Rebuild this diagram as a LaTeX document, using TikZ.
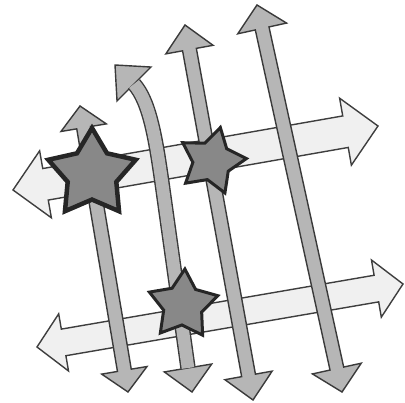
\documentclass[tikz,border=0pt]{standalone}
\usetikzlibrary{calc,shapes.geometric}

\definecolor{barfill}{RGB}{240,240,240}
\definecolor{barline}{RGB}{62,62,62}
\definecolor{rodfill}{RGB}{182,182,182}
\definecolor{rodline}{RGB}{58,58,58}
\definecolor{starfill}{RGB}{136,136,136}
\definecolor{starline}{RGB}{38,38,38}

% flecha doble: estilo, desde, hasta, medio cuerpo, media punta, largo punta
\newcommand{\dblarrow}[6]{%
  \draw[#1] (#2)
    -- ($(#2)!#6!(#3)!#5!90:(#3)$)
    -- ($(#2)!#6!(#3)!#4!90:(#3)$)
    -- ($(#3)!#6!(#2)!#4!-90:(#2)$)
    -- ($(#3)!#6!(#2)!#5!-90:(#2)$)
    -- (#3)
    -- ($(#3)!#6!(#2)!#5!90:(#2)$)
    -- ($(#3)!#6!(#2)!#4!90:(#2)$)
    -- ($(#2)!#6!(#3)!#4!-90:(#3)$)
    -- ($(#2)!#6!(#3)!#5!-90:(#3)$)
    -- cycle;}
% punta suelta: estilo, punta, base, media punta
\newcommand{\arrhead}[4]{%
  \draw[#1] (#2) -- ($(#3)!#4!90:(#2)$) -- ($(#3)!#4!-90:(#2)$) -- cycle;}

\begin{document}
\begin{tikzpicture}[x=1pt,y=-1pt,
    bar/.style={fill=barfill, draw=barline, line width=1.4pt},
    rod/.style={fill=rodfill, draw=rodline, line width=1.4pt},
    rodcurve/.style={draw=rodline, line width=1.4pt, double=rodfill, double distance=12.6pt},
    starbox/.style={star, star points=5, star point ratio=1.8, inner sep=0pt,
      fill=starfill, draw=starline, line width=3pt}]
  \useasboundingbox (0,0) rectangle (405,403);

  % flechas anchas
  \coordinate (b1l) at (13,190);
  \coordinate (b1r) at (378,126);
  \coordinate (b2l) at (37,347);
  \coordinate (b2r) at (403,284);
  \dblarrow{bar}{b1l}{b1r}{16pt}{34pt}{33pt}
  \dblarrow{bar}{b2l}{b2r}{13.5pt}{29pt}{27pt}

  % flechas verticales
  \coordinate (r1t) at (80,106);
  \coordinate (r1b) at (128,392);
  \coordinate (r3t) at (185,25);
  \coordinate (r3b) at (253,400);
  \coordinate (r4t) at (257,5);
  \coordinate (r4b) at (342,392);
  \dblarrow{rod}{r1t}{r1b}{7pt}{23pt}{22pt}
  \dblarrow{rod}{r3t}{r3b}{7pt}{24pt}{25pt}
  \dblarrow{rod}{r4t}{r4b}{7pt}{25pt}{24pt}

  % flecha curva
  \coordinate (r2tt) at (115,65);
  \coordinate (r2tb) at (134,84);
  \coordinate (r2bt) at (192,392);
  \coordinate (r2bb) at (188,368);
  \coordinate (r2bend) at (163,190);
  \arrhead{rod}{r2tt}{r2tb}{24pt}
  \arrhead{rod}{r2bt}{r2bb}{24pt}
  \draw[rodcurve] (r2bb) -- (r2bend) .. controls (156,140) and (150,102) .. (r2tb);

  % estrellas
  \node[starbox, minimum size=92pt, line width=4.5pt] (st1) at (92,174) {};
  \node[starbox, minimum size=69pt, rotate=-14] (st2) at (212,161) {};
  \node[starbox, minimum size=72pt, rotate=-3] (st3) at (183,305) {};
\end{tikzpicture}
\end{document}
